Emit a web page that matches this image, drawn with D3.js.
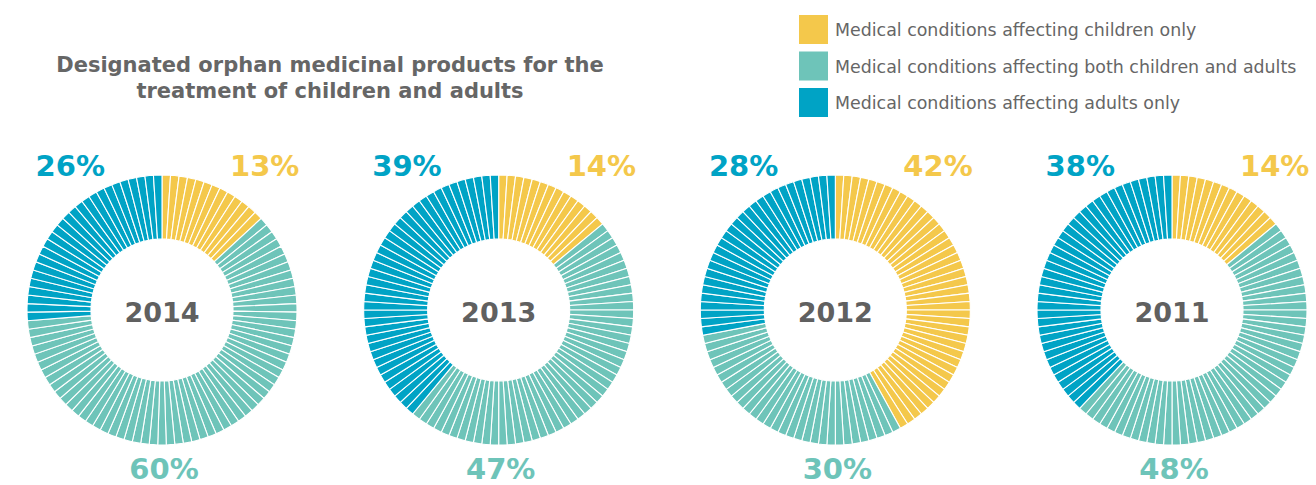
<!DOCTYPE html>
<html>
<head>
<meta charset="utf-8">
<script src="https://cdn.jsdelivr.net/npm/d3@7"></script>
<style>
  body { margin: 0; background: #fff; }
  svg { font-family: "DejaVu Sans", Verdana, sans-serif; }
</style>
</head>
<body>
<div id="chart"></div>
<script>
const w = 1316;
const h = 485;

// share of designations per year, in %
const years = ["2014", "2013", "2012", "2011"];
const childrenOnly = [13, 14, 42, 14];
const childrenAndAdults = [60, 47, 30, 48];
const adultsOnly = [26, 39, 28, 38];

const categories = [
  "Medical conditions affecting children only",
  "Medical conditions affecting both children and adults",
  "Medical conditions affecting adults only"
];
const colors = ["#f4c84b", "#6ec4b9", "#00a3c5"];

const title = ["Designated orphan medicinal products for the", "treatment of children and adults"];

const svg = d3.select("#chart").append("svg").attr("width", w).attr("height", h);

//Title
svg
  .append("text")
  .attr("x", 330)
  .attr("y", 72)
  .attr("text-anchor", "middle")
  .attr("font-weight", "bold")
  .attr("font-size", 21)
  .attr("fill", "#666")
  .selectAll("tspan")
  .data(title)
  .enter()
  .append("tspan")
  .attr("x", 330)
  .attr("dy", (d, i) => (i === 0 ? 0 : 26))
  .text((d) => d);

//Legend
const legend = svg
  .selectAll(".legend")
  .data(categories)
  .enter()
  .append("g")
  .attr("class", "legend")
  .attr("transform", (d, i) => `translate(799, ${15 + i * 36.5})`);

legend
  .append("rect")
  .attr("width", 29)
  .attr("height", 29)
  .attr("fill", (d, i) => colors[i]);

legend
  .append("text")
  .attr("x", 36)
  .attr("y", 21)
  .attr("font-size", 17.4)
  .attr("fill", "#666")
  .text((d) => d);

//Donuts
const xScale = d3.scalePoint().domain(years).range([162, 1172]);
const cy = 310;
const outerR = 135;
const innerR = 71;

const pie = d3.pie().value(1).sort(null);
const arc = d3.arc().innerRadius(innerR).outerRadius(outerR);

years.forEach((year, i) => {
  const counts = [childrenOnly[i], childrenAndAdults[i], adultsOnly[i]];
  // one slice per percentage point, ordered clockwise from the top
  const units = [];
  counts.forEach((c, k) => d3.range(c).forEach(() => units.push(k)));

  const g = svg
    .append("g")
    .attr("class", "donut")
    .attr("transform", `translate(${xScale(year)}, ${cy})`);

  g.selectAll("path")
    .data(pie(units))
    .enter()
    .append("path")
    .attr("d", arc)
    .attr("fill", (d) => colors[d.data])
    .attr("stroke", "#fff")
    .attr("stroke-width", 1.1);

  g.append("text")
    .attr("text-anchor", "middle")
    .attr("y", 12)
    .attr("font-weight", "bold")
    .attr("font-size", 27)
    .attr("fill", "#606060")
    .text(year);

  //Percentage labels
  g.append("text")
    .attr("x", 68)
    .attr("y", -134)
    .attr("font-weight", "bold")
    .attr("font-size", 29)
    .attr("fill", colors[0])
    .text(childrenOnly[i] + "%");

  g.append("text")
    .attr("x", 2)
    .attr("y", 169)
    .attr("text-anchor", "middle")
    .attr("font-weight", "bold")
    .attr("font-size", 29)
    .attr("fill", colors[1])
    .text(childrenAndAdults[i] + "%");

  g.append("text")
    .attr("x", -57)
    .attr("y", -134)
    .attr("text-anchor", "end")
    .attr("font-weight", "bold")
    .attr("font-size", 29)
    .attr("fill", colors[2])
    .text(adultsOnly[i] + "%");
});
</script>
</body>
</html>
